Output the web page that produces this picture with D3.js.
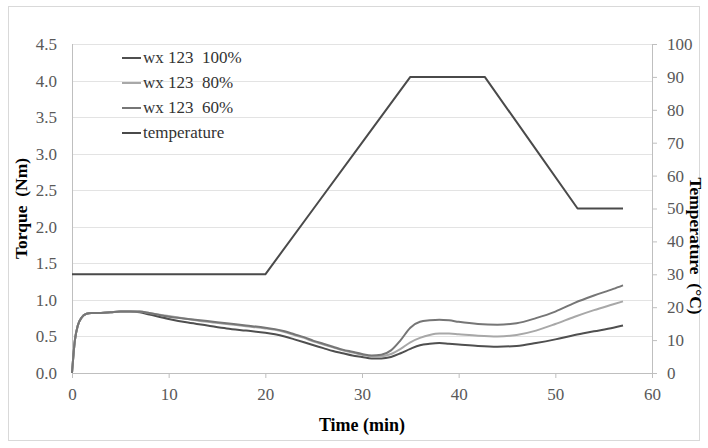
<!DOCTYPE html>
<html><head><meta charset="utf-8">
<script src="https://cdn.jsdelivr.net/npm/d3@7"></script>
<style>body{margin:0;background:#fff}svg{display:block}</style>
</head><body>
<svg id="c" width="708" height="448"></svg>
<script>
const time = [0,0.3,0.6,1,1.5,2,3,4,5,6,7,8,10,12,14,16,18,20,21,22,23,24,25,26,27,28,29,30,31,32,33,34,35,36,37,38,39,40,42,44,46,48,50,52,54,56,57];
const torque100 = [0,0.45,0.65,0.76,0.81,0.82,0.82,0.83,0.84,0.84,0.83,0.80,0.74,0.69,0.65,0.61,0.58,0.55,0.53,0.50,0.46,0.42,0.38,0.34,0.30,0.27,0.24,0.22,0.20,0.20,0.22,0.27,0.33,0.38,0.40,0.41,0.40,0.39,0.37,0.36,0.37,0.41,0.46,0.52,0.57,0.62,0.65];
const torque80 = [0,0.45,0.65,0.76,0.81,0.82,0.82,0.83,0.84,0.84,0.84,0.82,0.78,0.74,0.70,0.67,0.64,0.61,0.59,0.56,0.52,0.48,0.43,0.39,0.35,0.31,0.28,0.25,0.23,0.23,0.26,0.33,0.42,0.48,0.52,0.54,0.54,0.53,0.51,0.50,0.52,0.58,0.67,0.77,0.86,0.94,0.98];
const torque60 = [0,0.45,0.65,0.76,0.81,0.82,0.82,0.83,0.84,0.84,0.84,0.82,0.77,0.74,0.71,0.68,0.65,0.62,0.60,0.57,0.53,0.49,0.44,0.40,0.36,0.32,0.29,0.26,0.24,0.25,0.31,0.45,0.62,0.70,0.72,0.73,0.72,0.70,0.67,0.66,0.68,0.75,0.84,0.96,1.06,1.15,1.20];
const tempTime = [0,20,25,30.5,35,42.7,47.5,52.3,57];
const temperature = [30,30,50,72,90,90,70,50,50];
const xTicks = [0,10,20,30,40,50,60];
const yTicks = [0,0.5,1,1.5,2,2.5,3,3.5,4,4.5];
const y2Ticks = [0,10,20,30,40,50,60,70,80,90,100];
const seriesNames = ["wx 123  100%","wx 123  80%","wx 123  60%","temperature"];
const seriesColors = ["#4f4f4f","#a8a8a8","#767676","#4a4a4a"];

const svg = d3.select("#c");
const L=72,R=652,T=44,B=373;
const x = d3.scaleLinear().domain([0,60]).range([L,R]);
const y = d3.scaleLinear().domain([0,4.5]).range([B,T]);
const y2 = d3.scaleLinear().domain([0,100]).range([B,T]);
const font = "'Liberation Serif','Times New Roman',serif";

svg.append("rect").attr("x",8.5).attr("y",6.5).attr("width",691).attr("height",434)
  .attr("fill","#fff").attr("stroke","#d9d9d9");

// gridlines
svg.append("g").selectAll("line").data(yTicks).join("line")
  .attr("x1",L).attr("x2",R).attr("y1",d=>Math.round(y(d))+0.5).attr("y2",d=>Math.round(y(d))+0.5)
  .attr("stroke","#e3e3e3");

// axes
const gx = svg.append("g").attr("transform",`translate(0,${B})`)
  .call(d3.axisBottom(x).tickValues(xTicks).tickSize(5).tickSizeOuter(0).tickPadding(10));
const gy = svg.append("g").attr("transform",`translate(${L},0)`)
  .call(d3.axisLeft(y).tickValues(yTicks).tickFormat(d3.format(".1f")).tickSize(0).tickPadding(15));
const gy2 = svg.append("g").attr("transform",`translate(${R},0)`)
  .call(d3.axisRight(y2).tickValues(y2Ticks).tickSize(5).tickSizeOuter(0).tickPadding(10));
[gx,gy,gy2].forEach(g=>{
  g.select(".domain").attr("stroke","#bfbfbf");
  g.selectAll(".tick line").attr("stroke","#bfbfbf");
  g.selectAll("text").attr("font-family",font).attr("font-size",17).attr("fill","#595959");
});
gy.select(".domain").remove();
svg.append("line").attr("x1",L+0.5).attr("x2",L+0.5).attr("y1",T).attr("y2",B).attr("stroke","#bfbfbf");

// lines
const line = d3.line().x((d,i)=>x(time[i])).y(d=>y(d)).curve(d3.curveMonotoneX);
[[torque100,0],[torque80,1],[torque60,2]].forEach(([s,k])=>{
  svg.append("path").datum(s).attr("d",line).attr("fill","none")
    .attr("stroke",seriesColors[k]).attr("stroke-width",2);
});
const tline = d3.line().x((d,i)=>x(tempTime[i])).y(d=>y2(d));
svg.append("path").datum(temperature).attr("d",tline).attr("fill","none")
  .attr("stroke",seriesColors[3]).attr("stroke-width",2).attr("stroke-linejoin","round");

// legend
const lg = svg.append("g");
seriesNames.forEach((n,i)=>{
  const yy = 58 + i*25;
  lg.append("line").attr("x1",122).attr("x2",141).attr("y1",yy).attr("y2",yy)
    .attr("stroke",seriesColors[i]).attr("stroke-width",2);
  lg.append("text").attr("x",143).attr("y",yy+5).text(n)
    .attr("font-family",font).attr("font-size",17).attr("fill","#333").style("white-space","pre");
});

// titles
svg.append("text").attr("x",x(30)).attr("y",431).attr("text-anchor","middle")
  .attr("font-family",font).attr("font-size",18).attr("font-weight","bold").text("Time (min)");
svg.append("text").attr("transform",`translate(27,${(T+B)/2}) rotate(-90)`).attr("text-anchor","middle")
  .attr("font-family",font).attr("font-size",17.5).attr("font-weight","bold").style("white-space","pre").text("Torque  (Nm)");
svg.append("text").attr("transform",`translate(690,246) rotate(90)`).attr("text-anchor","middle")
  .attr("font-family",font).attr("font-size",17.5).attr("font-weight","bold").style("white-space","pre").text("Temperature  (°C)");
</script>
</body></html>
